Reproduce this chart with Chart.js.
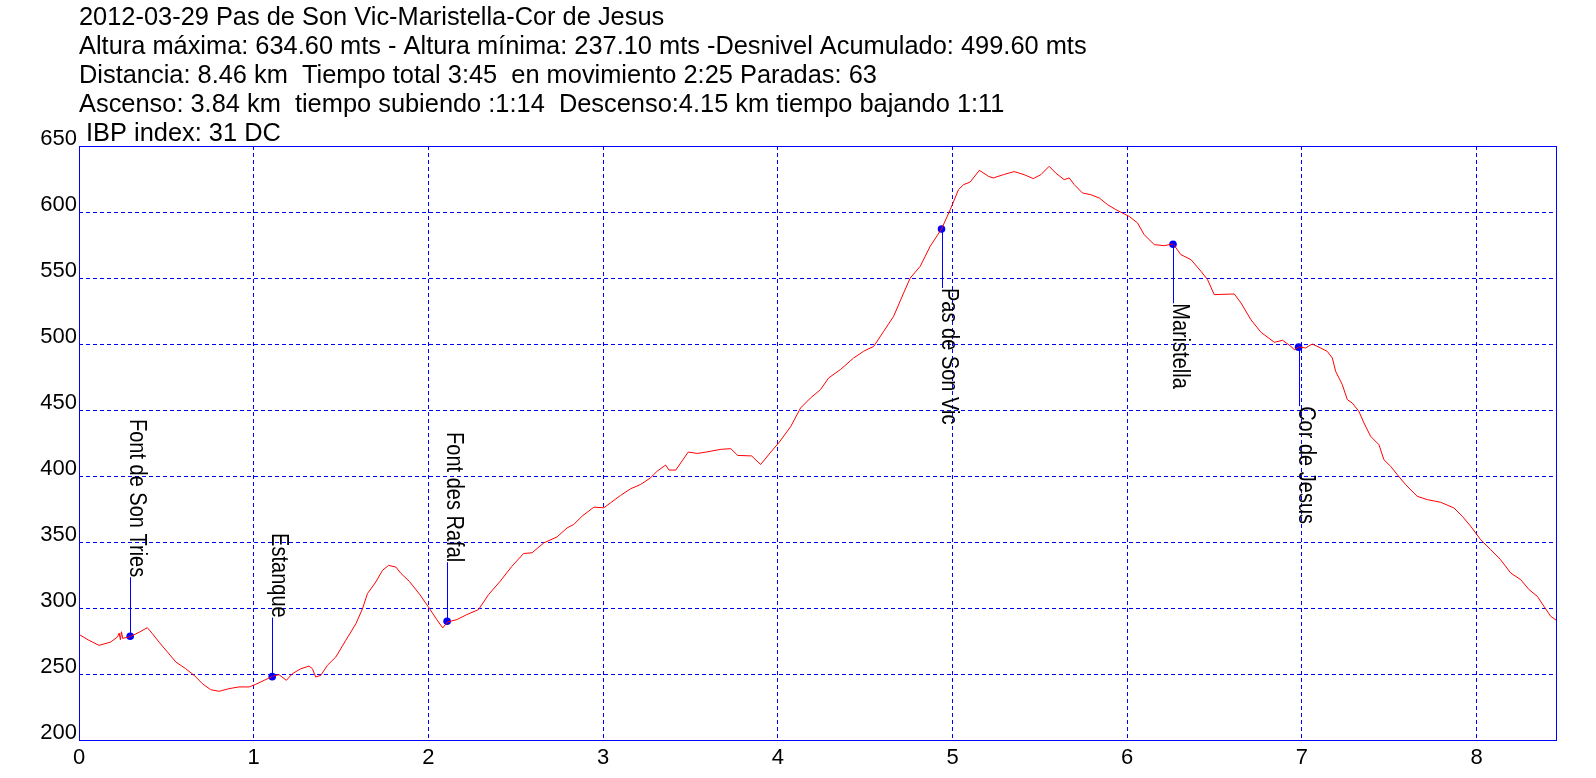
<!DOCTYPE html>
<html lang="es">
<head>
<meta charset="utf-8">
<title>Pas de Son Vic-Maristella-Cor de Jesus</title>
<script src="https://cdn.jsdelivr.net/npm/chart.js@4.4.1/dist/chart.umd.min.js"></script>
<style>
    html, body { margin: 0; padding: 0; background: #ffffff; }
    canvas { display: block; }
</style>
</head>
<body>
<canvas id="perfil" width="1596" height="778"></canvas>
<script>
// Cabecera del recorrido
const titulo = [
    "2012-03-29 Pas de Son Vic-Maristella-Cor de Jesus",
    "Altura máxima: 634.60 mts - Altura mínima: 237.10 mts -Desnivel Acumulado: 499.60 mts",
    "Distancia: 8.46 km  Tiempo total 3:45  en movimiento 2:25 Paradas: 63",
    "Ascenso: 3.84 km  tiempo subiendo :1:14  Descenso:4.15 km tiempo bajando 1:11",
    " IBP index: 31 DC"
];

// Perfil: distancia (km) y altura (m)
const distancias = [
    0.00, 0.057, 0.115, 0.181, 0.22, 0.23, 0.237, 0.243, 0.25, 0.294, 0.344, 0.391, 0.42, 0.458,
    0.506, 0.554, 0.611, 0.659, 0.706, 0.754, 0.802, 0.859, 0.916, 0.974, 1.012, 1.06,
    1.107, 1.145, 1.187, 1.222, 1.27, 1.317, 1.336, 1.355, 1.384, 1.422, 1.47, 1.527,
    1.585, 1.623, 1.651, 1.699, 1.737, 1.772, 1.814, 1.842, 1.892, 1.949, 2.0, 2.048,
    2.082, 2.109, 2.163, 2.22, 2.287, 2.344, 2.411, 2.478, 2.545, 2.593, 2.66, 2.737,
    2.794, 2.832, 2.88, 2.947, 3.004, 3.043, 3.1, 3.157, 3.215, 3.272, 3.31, 3.358,
    3.377, 3.416, 3.487, 3.54, 3.588, 3.674, 3.731, 3.77, 3.85, 3.902, 3.96, 4.009,
    4.074, 4.13, 4.187, 4.244, 4.291, 4.358, 4.434, 4.491, 4.549, 4.606, 4.663, 4.72,
    4.758, 4.815, 4.872, 4.937, 4.987, 5.034, 5.063, 5.101, 5.154, 5.206, 5.234, 5.291,
    5.353, 5.41, 5.462, 5.506, 5.553, 5.591, 5.639, 5.668, 5.697, 5.744, 5.792, 5.84,
    5.887, 5.935, 5.973, 6.011, 6.059, 6.097, 6.155, 6.212, 6.263, 6.307, 6.365, 6.422,
    6.46, 6.498, 6.613, 6.651, 6.708, 6.766, 6.842, 6.89, 6.937, 6.956, 6.982, 7.021,
    7.059, 7.107, 7.145, 7.174, 7.193, 7.231, 7.26, 7.288, 7.326, 7.355, 7.393, 7.441,
    7.469, 7.508, 7.546, 7.594, 7.66, 7.718, 7.794, 7.87, 7.918, 7.966, 8.023, 8.08,
    8.137, 8.195, 8.252, 8.3, 8.347, 8.385, 8.424, 8.46
];
const alturas = [
    280, 275.5, 271.7, 274.2, 278, 281, 276, 282, 277, 278.3, 281.6, 285.1, 280.6, 274.2,
    266.7, 259.1, 254, 249, 242.7, 238.1, 236.9, 238.9, 240.2, 240.2, 242.2, 245.2,
    248.2, 249.5, 245.2, 250.3, 254, 256, 254, 247.7, 249, 256.6, 262.9, 275.5,
    288.1, 299.5, 310.9, 319.7, 328.5, 332.3, 331, 326.3, 320, 310.5, 300.8, 291.2,
    284.9, 289.4, 291.2, 295, 298.8, 310.1, 320.3, 331.6, 341.3, 341.8, 349.3, 353.9,
    360.7, 363.3, 369.6, 376.4, 375.9, 379.7, 385.3, 390.3, 393.6, 398.7, 403.7, 408.3,
    404.5, 404.5, 418.1, 417.1, 418.1, 420.2, 420.7, 415.6, 415.2, 408.7, 418.2, 425.7,
    437.5, 451.5, 459.1, 465.4, 474.3, 480.6, 489.4, 494.5, 498.2, 509.6, 521, 538.6,
    550, 558.8, 574, 587.1, 601.8, 616.9, 620.7, 622.7, 631.6, 627, 625.8, 628.3,
    630.6, 628.3, 625.3, 628.3, 634.6, 629.5, 624.5, 625.8, 620.7, 614.4, 613.1, 610.6,
    605.6, 601.8, 599.2, 596.7, 591.7, 582.8, 575.3, 574.5, 575.8, 567.7, 563.9, 555.1,
    548.7, 537.4, 537.9, 531.1, 518.4, 508.8, 501.3, 502.8, 498.2, 495.7, 497.7, 497,
    500, 497, 494.4, 489.4, 479.3, 469.2, 457.8, 455.3, 449, 440.2, 430.1, 423.7,
    412.4, 407.3, 401, 393.4, 384.6, 382.1, 380.1, 375.8, 369.5, 361.9, 351.8, 344.2,
    336.6, 326.5, 321.5, 313.9, 308.9, 301.3, 293.7, 290.4
];

// Puntos de paso
const wpNombres = ["Font de Son Tries", "Estanque", "Font des Rafal", "Pas de Son Vic", "Maristella", "Cor de Jesus"];
const wpKm = [0.293, 1.106, 2.107, 4.937, 6.262, 6.981];
const wpAlt = [278.6, 248, 290, 587.1, 575.6, 497.6];

const AZUL = '#0000ff';
const FUENTE = '"Liberation Sans", Arial, sans-serif';

// Texto de cabecera y marco del grafico
const cabecera = {
    id: 'cabecera',
    afterDraw(chart) {
        const ctx = chart.ctx;
        const a = chart.chartArea;
        ctx.save();
        ctx.setLineDash([]);
        ctx.strokeStyle = AZUL;
        ctx.lineWidth = 1;
        ctx.strokeRect(a.left + 0.5, a.top + 0.5, a.right - a.left - 1, a.bottom - a.top);
        ctx.fillStyle = '#000';
        ctx.font = '25.4px ' + FUENTE;
        ctx.textBaseline = 'alphabetic';
        titulo.forEach((t, i) => ctx.fillText(t, 79, 24.5 + i * 29));
        ctx.restore();
    }
};

// Etiquetas verticales de los puntos de paso (letra algo estrecha)
const estrecho = 0.87;
const etiquetas = {
    id: 'etiquetas',
    afterDatasetsDraw(chart) {
        const ctx = chart.ctx;
        const xs = chart.scales.x, ys = chart.scales.y;
        ctx.save();
        ctx.setLineDash([]);
        ctx.font = '23px ' + FUENTE;
        wpNombres.forEach((nombre, i) => {
            const px = Math.round(xs.getPixelForValue(wpKm[i])) + 0.5;
            const py = ys.getPixelForValue(wpAlt[i]);
            const ancho = ctx.measureText(nombre).width * estrecho;
            const arriba = wpAlt[i] < 425; // en zona baja la etiqueta va encima
            const fin = arriba ? py - 59 : py + 59;
            ctx.strokeStyle = AZUL;
            ctx.lineWidth = 1;
            ctx.beginPath();
            ctx.moveTo(px, py);
            ctx.lineTo(px, fin);
            ctx.stroke();
            ctx.save();
            ctx.translate(px - 0.5, arriba ? fin - ancho : fin);
            ctx.rotate(Math.PI / 2);
            ctx.scale(estrecho, 1);
            ctx.fillStyle = '#000';
            ctx.textBaseline = 'alphabetic';
            ctx.fillText(nombre, 0, 0);
            ctx.restore();
        });
        ctx.restore();
    }
};

const data = {
    datasets: [
        {
            label: 'Altura',
            data: distancias.map((d, i) => ({ x: d, y: alturas[i] })),
            borderColor: '#ff0000',
            borderWidth: 1,
            pointRadius: 0,
            tension: 0,
            fill: false
        },
        {
            label: 'Puntos',
            data: wpKm.map((k, i) => ({ x: k, y: wpAlt[i] })),
            showLine: false,
            pointRadius: 3.8,
            pointBackgroundColor: AZUL,
            pointBorderColor: AZUL,
            pointBorderWidth: 0
        }
    ]
};

const rejilla = {
    color: () => AZUL,
    tickColor: AZUL,
    lineWidth: 1,
    drawTicks: false
};

const config = {
    type: 'line',
    data: data,
    plugins: [cabecera, etiquetas],
    options: {
        responsive: false,
        animation: false,
        layout: { padding: { top: 146, right: 39, bottom: 0, left: 0 } },
        scales: {
            x: {
                type: 'linear',
                min: 0,
                max: 8.46,
                afterFit(scale) { scale.height = 38; },
                ticks: {
                    stepSize: 1,
                    includeBounds: false,
                    color: '#000',
                    padding: 5,
                    font: { family: FUENTE, size: 22 }
                },
                grid: rejilla,
                border: { display: false, color: AZUL, dash: [4, 3] }
            },
            y: {
                min: 200,
                max: 650,
                afterFit(scale) { scale.width = 79; },
                ticks: {
                    stepSize: 50,
                    color: '#000',
                    padding: 2,
                    labelOffset: -7,
                    font: { family: FUENTE, size: 22 }
                },
                grid: rejilla,
                border: { display: false, color: AZUL, dash: [4, 3] }
            }
        },
        plugins: {
            legend: { display: false },
            tooltip: { enabled: false },
            title: { display: false }
        }
    }
};

const ctx = document.getElementById('perfil').getContext('2d');
const perfil = new Chart(ctx, config);
</script>
</body>
</html>
